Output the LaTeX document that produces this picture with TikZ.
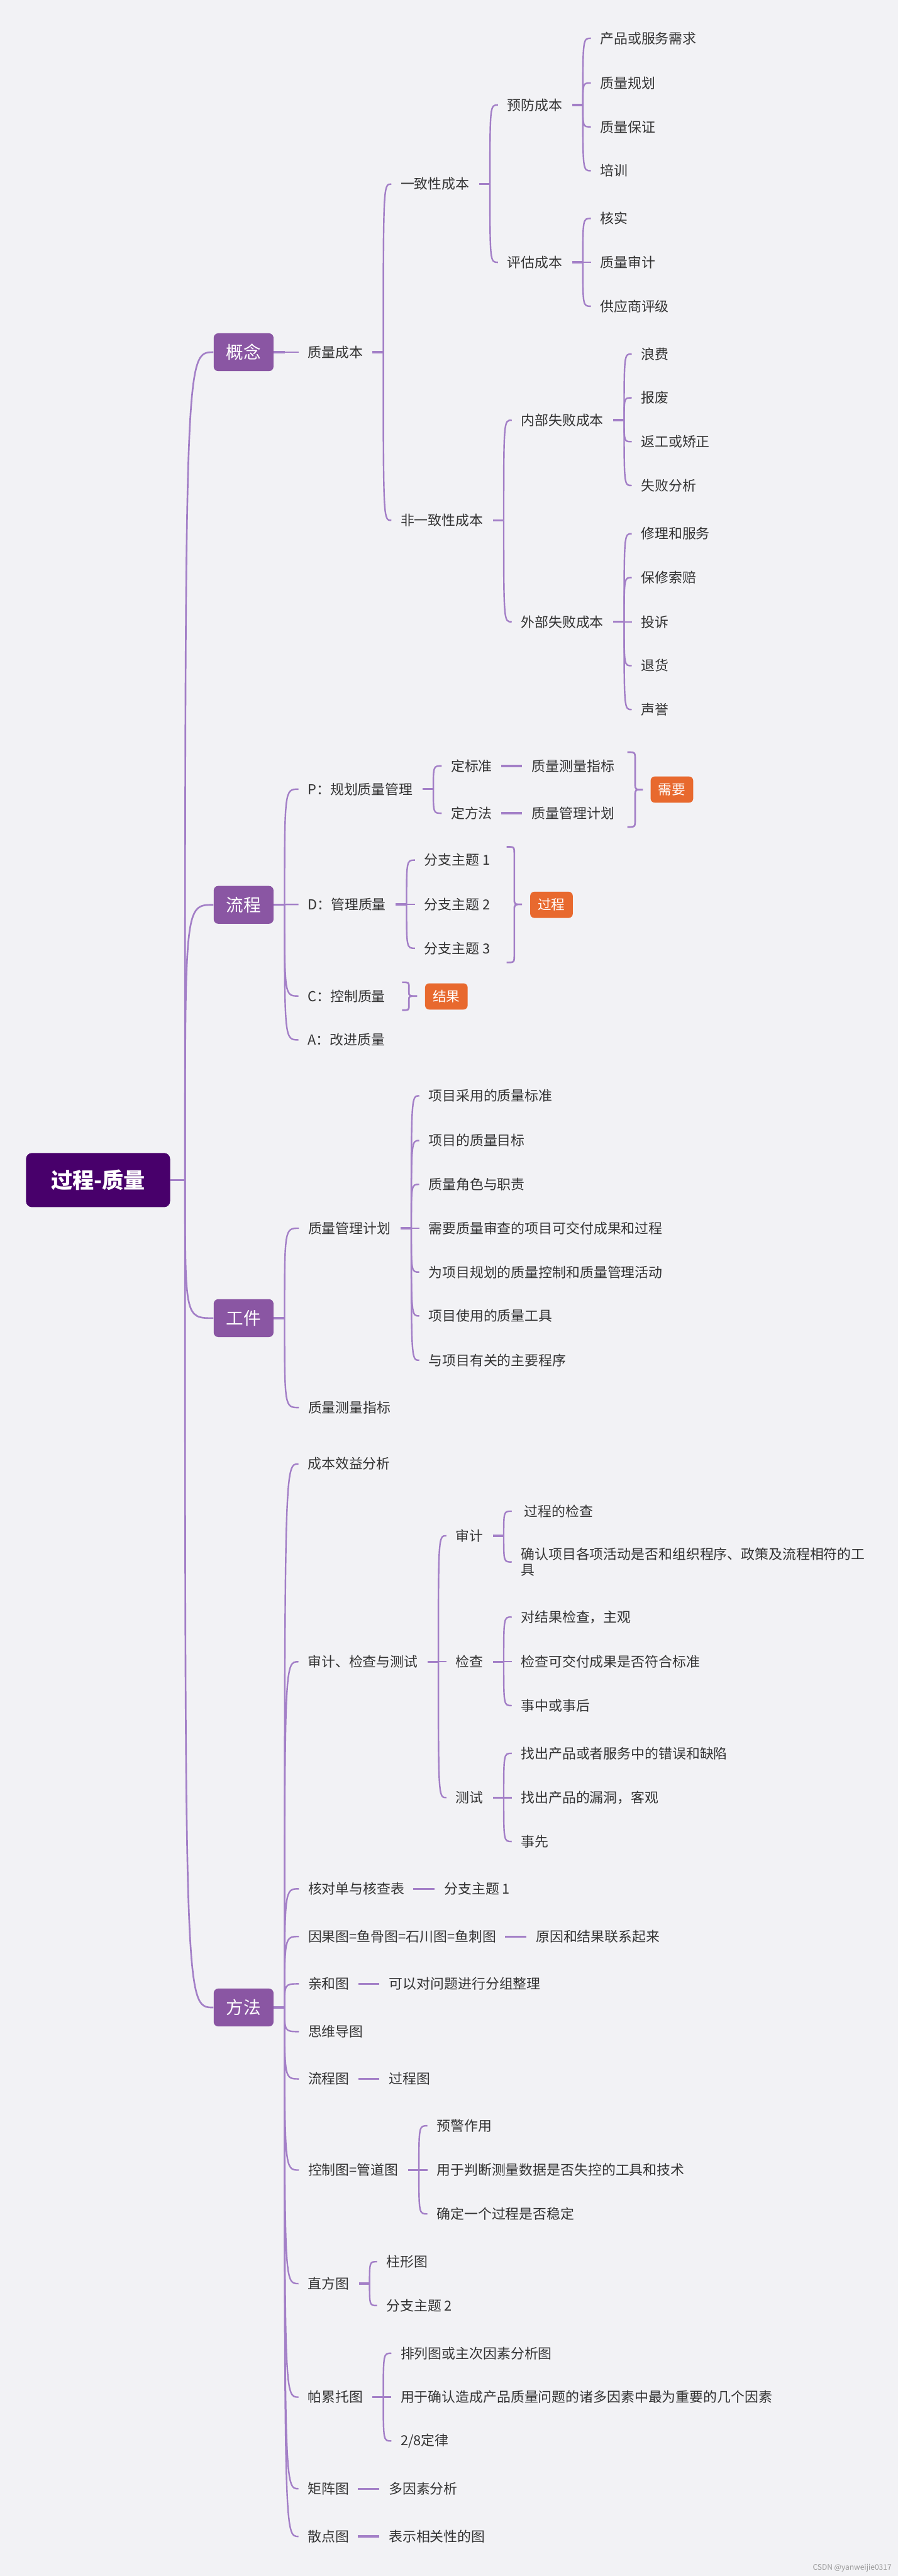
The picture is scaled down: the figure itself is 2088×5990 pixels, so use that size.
\documentclass[tikz,border=0pt]{standalone}
\usepackage{fontspec}
\setmainfont{Noto Sans CJK SC}
\usepackage{xcolor}
\usepackage{tikz}
\usetikzlibrary{calc, positioning}

\definecolor{bgcol}{RGB}{242,242,245}
\definecolor{twigcol}{RGB}{163,127,199}
\definecolor{rootcol}{RGB}{72,0,107}
\definecolor{branchcol}{RGB}{138,86,163}
\definecolor{tagcol}{RGB}{232,105,46}
\definecolor{txtcol}{RGB}{51,51,51}

\begin{document}
\begin{tikzpicture}[
    x=0.01cm, y=-0.01cm,
    % Connectors
    twig/.style={draw=twigcol, line width=1pt, to path={(\tikztostart) .. controls (\tikztostart |- \tikztotarget) .. ($(\tikztotarget)+(-21,0)$)}},
    root_twig/.style={draw=twigcol, line width=1.1pt, to path={(\tikztostart) .. controls (\tikztostart |- \tikztotarget) .. (\tikztotarget)}},
    stub/.style={draw=twigcol, line width=1.4pt, to path={($(\tikztostart.east)+(22,0)$) -- (\tikztotarget)}},
    box_stub/.style={draw=twigcol, line width=1.4pt, to path={(\tikztostart.east) -- (\tikztotarget)}},
    leaf_link/.style={draw=twigcol, line width=1.4pt, to path={($(\tikztostart.east)+(20,0)$) -- ($(\tikztotarget.west)+(-22,0)$)}},
    brace_line/.style={draw=twigcol, line width=1.1pt},
    % Nodes
    root_node/.style={rectangle, rounded corners=4pt, fill=rootcol, text=white, minimum width=3.35cm, minimum height=1.26cm, inner sep=0pt, font=\fontsize{14.2pt}{17pt}\selectfont\bfseries},
    branch_node/.style={rectangle, rounded corners=3pt, fill=branchcol, text=white, minimum width=1.39cm, minimum height=0.88cm, inner sep=0pt, font=\fontsize{11.5pt}{13pt}\selectfont},
    tag_node/.style={rectangle, rounded corners=2.8pt, fill=tagcol, text=white, minimum width=0.99cm, minimum height=0.61cm, inner sep=0pt, font=\fontsize{9pt}{11pt}\selectfont},
    topic/.style={anchor=west, inner sep=0pt, text=txtcol, font=\fontsize{9.1pt}{10.5pt}\selectfont}
]
    \useasboundingbox [fill=bgcol] (0,0) rectangle (2088,5990);

    % =========================================================================
    % 中心主题与四个分支
    % =========================================================================
    \node [root_node] (root) at (228, 2744) {过程-质量};
    \coordinate (root_s) at ($(root.east)+(34,0)$);
    \draw [box_stub] (root) to (root_s);

    \node [branch_node] (concept) at (566.5, 819) {概念};
    \node [branch_node] (process) at (566.5, 2104) {流程};
    \node [branch_node] (artifact) at (566.5, 3065) {工件};
    \node [branch_node] (method) at (566.5, 4668) {方法};

    \draw [root_twig] (root_s) to (concept.west);
    \draw [root_twig] (root_s) to (process.west);
    \draw [root_twig] (root_s) to (artifact.west);
    \draw [root_twig] (root_s) to (method.west);

    \coordinate (concept_s) at ($(concept.east)+(25,0)$);
    \coordinate (process_s) at ($(process.east)+(25,0)$);
    \coordinate (artifact_s) at ($(artifact.east)+(25,0)$);
    \coordinate (method_s) at ($(method.east)+(25,0)$);
    \draw [box_stub] (concept) to (concept_s);
    \draw [box_stub] (process) to (process_s);
    \draw [box_stub] (artifact) to (artifact_s);
    \draw [box_stub] (method) to (method_s);

    % =========================================================================
    % 概念：质量成本
    % =========================================================================
    \node [topic] (cost) at (715, 819) {质量成本};
    \draw [twig] (concept_s) to (cost.west);
    \coordinate (cost_s) at ($(cost.east)+(47,0)$);
    \draw [stub] (cost) to (cost_s);

    \node [topic] (conform) at (931, 428) {一致性成本};
    \node [topic] (nonconf) at (931, 1210) {非一致性成本};
    \draw [twig] (cost_s) to (conform.west);
    \draw [twig] (cost_s) to (nonconf.west);
    \coordinate (conform_s) at ($(conform.east)+(47,0)$);
    \coordinate (nonconf_s) at ($(nonconf.east)+(47,0)$);
    \draw [stub] (conform) to (conform_s);
    \draw [stub] (nonconf) to (nonconf_s);

    \node [topic] (prevent) at (1179, 244) {预防成本};
    \node [topic] (appraise) at (1179, 610) {评估成本};
    \draw [twig] (conform_s) to (prevent.west);
    \draw [twig] (conform_s) to (appraise.west);
    \coordinate (prevent_s) at ($(prevent.east)+(47,0)$);
    \coordinate (appraise_s) at ($(appraise.east)+(47,0)$);
    \draw [stub] (prevent) to (prevent_s);
    \draw [stub] (appraise) to (appraise_s);

    \node [topic] (pv_a) at (1395, 89) {产品或服务需求};
    \node [topic] (pv_b) at (1395, 193) {质量规划};
    \node [topic] (pv_c) at (1395, 295) {质量保证};
    \node [topic] (pv_d) at (1395, 397) {培训};
    \draw [twig] (prevent_s) to (pv_a.west);
    \draw [twig] (prevent_s) to (pv_b.west);
    \draw [twig] (prevent_s) to (pv_c.west);
    \draw [twig] (prevent_s) to (pv_d.west);

    \node [topic] (ap_a) at (1395, 508) {核实};
    \node [topic] (ap_b) at (1395, 610) {质量审计};
    \node [topic] (ap_c) at (1395, 712) {供应商评级};
    \draw [twig] (appraise_s) to (ap_a.west);
    \draw [twig] (appraise_s) to (ap_b.west);
    \draw [twig] (appraise_s) to (ap_c.west);

    \node [topic] (internal) at (1211, 977) {内部失败成本};
    \node [topic] (external) at (1211, 1446) {外部失败成本};
    \draw [twig] (nonconf_s) to (internal.west);
    \draw [twig] (nonconf_s) to (external.west);
    \coordinate (internal_s) at ($(internal.east)+(47,0)$);
    \coordinate (external_s) at ($(external.east)+(47,0)$);
    \draw [stub] (internal) to (internal_s);
    \draw [stub] (external) to (external_s);

    \node [topic] (in_a) at (1490, 823) {浪费};
    \node [topic] (in_b) at (1490, 925) {报废};
    \node [topic] (in_c) at (1490, 1027) {返工或矫正};
    \node [topic] (in_d) at (1490, 1129) {失败分析};
    \draw [twig] (internal_s) to (in_a.west);
    \draw [twig] (internal_s) to (in_b.west);
    \draw [twig] (internal_s) to (in_c.west);
    \draw [twig] (internal_s) to (in_d.west);

    \node [topic] (ex_a) at (1490, 1241) {修理和服务};
    \node [topic] (ex_b) at (1490, 1343) {保修索赔};
    \node [topic] (ex_c) at (1490, 1446) {投诉};
    \node [topic] (ex_d) at (1490, 1548) {退货};
    \node [topic] (ex_e) at (1490, 1650) {声誉};
    \draw [twig] (external_s) to (ex_a.west);
    \draw [twig] (external_s) to (ex_b.west);
    \draw [twig] (external_s) to (ex_c.west);
    \draw [twig] (external_s) to (ex_d.west);
    \draw [twig] (external_s) to (ex_e.west);

    % =========================================================================
    % 流程：PDCA
    % =========================================================================
    \node [topic] (plan) at (715, 1835) {P：规划质量管理};
    \node [topic] (do) at (715, 2103) {D：管理质量};
    \node [topic] (check) at (715, 2316) {C：控制质量};
    \node [topic] (act) at (715, 2418) {A：改进质量};
    \draw [twig] (process_s) to (plan.west);
    \draw [twig] (process_s) to (do.west);
    \draw [twig] (process_s) to (check.west);
    \draw [twig] (process_s) to (act.west);

    \coordinate (plan_s) at ($(plan.east)+(47,0)$);
    \draw [stub] (plan) to (plan_s);
    \node [topic] (std) at (1048, 1781) {定标准};
    \node [topic] (way) at (1048, 1891) {定方法};
    \draw [twig] (plan_s) to (std.west);
    \draw [twig] (plan_s) to (way.west);
    \node [topic, right=0.91cm of std] (std_m) {质量测量指标};
    \node [topic, right=0.91cm of way] (way_m) {质量管理计划};
    \draw [leaf_link] (std) to (std_m);
    \draw [leaf_link] (way) to (way_m);

    \draw [brace_line] (1459,1749) .. controls (1477,1749) .. (1477,1767) -- (1477,1822) .. controls (1477,1836) .. (1495,1836) .. controls (1477,1836) .. (1477,1850) -- (1477,1905) .. controls (1477,1923) .. (1459,1923);
    \node [tag_node] (need) at (1562.5, 1836) {需要};

    \coordinate (do_s) at ($(do.east)+(47,0)$);
    \draw [stub] (do) to (do_s);
    \node [topic] (do_a) at (986, 2000) {分支主题 1};
    \node [topic] (do_b) at (986, 2103) {分支主题 2};
    \node [topic] (do_c) at (986, 2205) {分支主题 3};
    \draw [twig] (do_s) to (do_a.west);
    \draw [twig] (do_s) to (do_b.west);
    \draw [twig] (do_s) to (do_c.west);

    \draw [brace_line] (1178,1969) .. controls (1196,1969) .. (1196,1987) -- (1196,2089) .. controls (1196,2103) .. (1214,2103) .. controls (1196,2103) .. (1196,2117) -- (1196,2220) .. controls (1196,2238) .. (1178,2238);
    \node [tag_node] (proc_tag) at (1282.5, 2104) {过程};

    \draw [brace_line] (935,2284) .. controls (951,2284) .. (951,2296) -- (951,2306) .. controls (951,2316) .. (970,2316) .. controls (951,2316) .. (951,2326) -- (951,2337) .. controls (951,2349) .. (935,2349);
    \node [tag_node] (result) at (1038, 2317) {结果};

    % =========================================================================
    % 工件
    % =========================================================================
    \node [topic] (qmp) at (716, 2856) {质量管理计划};
    \node [topic] (qmm) at (716, 3273) {质量测量指标};
    \draw [twig] (artifact_s) to (qmp.west);
    \draw [twig] (artifact_s) to (qmm.west);
    \coordinate (qmp_s) at ($(qmp.east)+(47,0)$);
    \draw [stub] (qmp) to (qmp_s);

    \node [topic] (qp_a) at (996, 2548) {项目采用的质量标准};
    \node [topic] (qp_b) at (996, 2652) {项目的质量目标};
    \node [topic] (qp_c) at (996, 2754) {质量角色与职责};
    \node [topic] (qp_d) at (996, 2856) {需要质量审查的项目可交付成果和过程};
    \node [topic] (qp_e) at (996, 2958) {为项目规划的质量控制和质量管理活动};
    \node [topic] (qp_f) at (996, 3060) {项目使用的质量工具};
    \node [topic] (qp_g) at (996, 3163) {与项目有关的主要程序};
    \draw [twig] (qmp_s) to (qp_a.west);
    \draw [twig] (qmp_s) to (qp_b.west);
    \draw [twig] (qmp_s) to (qp_c.west);
    \draw [twig] (qmp_s) to (qp_d.west);
    \draw [twig] (qmp_s) to (qp_e.west);
    \draw [twig] (qmp_s) to (qp_f.west);
    \draw [twig] (qmp_s) to (qp_g.west);

    % =========================================================================
    % 方法
    % =========================================================================
    \node [topic] (cba) at (715, 3404) {成本效益分析};
    \node [topic] (ait) at (715, 3864) {审计、检查与测试};
    \node [topic] (chklist) at (716, 4392) {核对单与核查表};
    \node [topic] (cause) at (716, 4503) {因果图=鱼骨图=石川图=鱼刺图};
    \node [topic] (affin) at (716, 4613) {亲和图};
    \node [topic] (mindmap) at (716, 4724) {思维导图};
    \node [topic] (flow) at (716, 4834) {流程图};
    \node [topic] (ctrl) at (716, 5046) {控制图=管道图};
    \node [topic] (hist) at (715, 5310) {直方图};
    \node [topic] (pareto) at (715, 5574) {帕累托图};
    \node [topic] (matrix) at (715, 5787) {矩阵图};
    \node [topic] (scatter) at (715, 5898) {散点图};
    \draw [twig] (method_s) to (cba.west);
    \draw [twig] (method_s) to (ait.west);
    \draw [twig] (method_s) to (chklist.west);
    \draw [twig] (method_s) to (cause.west);
    \draw [twig] (method_s) to (affin.west);
    \draw [twig] (method_s) to (mindmap.west);
    \draw [twig] (method_s) to (flow.west);
    \draw [twig] (method_s) to (ctrl.west);
    \draw [twig] (method_s) to (hist.west);
    \draw [twig] (method_s) to (pareto.west);
    \draw [twig] (method_s) to (matrix.west);
    \draw [twig] (method_s) to (scatter.west);

    % 审计、检查与测试
    \coordinate (ait_s) at ($(ait.east)+(47,0)$);
    \draw [stub] (ait) to (ait_s);
    \node [topic] (audit) at (1059, 3571) {审计};
    \node [topic] (inspect) at (1059, 3864) {检查};
    \node [topic] (test) at (1059, 4180) {测试};
    \draw [twig] (ait_s) to (audit.west);
    \draw [twig] (ait_s) to (inspect.west);
    \draw [twig] (ait_s) to (test.west);
    \coordinate (audit_s) at ($(audit.east)+(47,0)$);
    \coordinate (inspect_s) at ($(inspect.east)+(47,0)$);
    \coordinate (test_s) at ($(test.east)+(47,0)$);
    \draw [stub] (audit) to (audit_s);
    \draw [stub] (inspect) to (inspect_s);
    \draw [stub] (test) to (test_s);

    \node [topic] (au_a) at (1211, 3514) {\ 过程的检查};
    \node [topic, align=left] (au_b) at (1211, 3632) {确认项目各项活动是否和组织程序、政策及流程相符的工\\具};
    \draw [twig] (audit_s) to (au_a.west);
    \draw [twig] (audit_s) to (au_b.west);

    \node [topic] (ck_a) at (1211, 3760) {对结果检查，主观};
    \node [topic] (ck_b) at (1211, 3864) {检查可交付成果是否符合标准};
    \node [topic] (ck_c) at (1211, 3966) {事中或事后};
    \draw [twig] (inspect_s) to (ck_a.west);
    \draw [twig] (inspect_s) to (ck_b.west);
    \draw [twig] (inspect_s) to (ck_c.west);

    \node [topic] (ts_a) at (1211, 4077) {找出产品或者服务中的错误和缺陷};
    \node [topic] (ts_b) at (1211, 4180) {找出产品的漏洞，客观};
    \node [topic] (ts_c) at (1211, 4282) {事先};
    \draw [twig] (test_s) to (ts_a.west);
    \draw [twig] (test_s) to (ts_b.west);
    \draw [twig] (test_s) to (ts_c.west);

    % 单一子主题
    \node [topic, right=0.91cm of chklist] (chklist_m) {分支主题 1};
    \node [topic, right=0.91cm of cause] (cause_m) {原因和结果联系起来};
    \node [topic, right=0.91cm of affin] (affin_m) {可以对问题进行分组整理};
    \node [topic, right=0.91cm of flow] (flow_m) {过程图};
    \node [topic, right=0.91cm of matrix] (matrix_m) {多因素分析};
    \node [topic, right=0.91cm of scatter] (scatter_m) {表示相关性的图};
    \draw [leaf_link] (chklist) to (chklist_m);
    \draw [leaf_link] (cause) to (cause_m);
    \draw [leaf_link] (affin) to (affin_m);
    \draw [leaf_link] (flow) to (flow_m);
    \draw [leaf_link] (matrix) to (matrix_m);
    \draw [leaf_link] (scatter) to (scatter_m);

    % 控制图、直方图、帕累托图
    \coordinate (ctrl_s) at ($(ctrl.east)+(47,0)$);
    \draw [stub] (ctrl) to (ctrl_s);
    \node [topic] (ct_a) at (1015, 4943) {预警作用};
    \node [topic] (ct_b) at (1015, 5046) {用于判断测量数据是否失控的工具和技术};
    \node [topic] (ct_c) at (1015, 5148) {确定一个过程是否稳定};
    \draw [twig] (ctrl_s) to (ct_a.west);
    \draw [twig] (ctrl_s) to (ct_b.west);
    \draw [twig] (ctrl_s) to (ct_c.west);

    \coordinate (hist_s) at ($(hist.east)+(47,0)$);
    \draw [stub] (hist) to (hist_s);
    \node [topic] (hi_a) at (898, 5259) {柱形图};
    \node [topic] (hi_b) at (898, 5361) {分支主题 2};
    \draw [twig] (hist_s) to (hi_a.west);
    \draw [twig] (hist_s) to (hi_b.west);

    \coordinate (pareto_s) at ($(pareto.east)+(47,0)$);
    \draw [stub] (pareto) to (pareto_s);
    \node [topic] (pa_a) at (931, 5472) {排列图或主次因素分析图};
    \node [topic] (pa_b) at (931, 5574) {用于确认造成产品质量问题的诸多因素中最为重要的几个因素};
    \node [topic] (pa_c) at (931, 5676) {2/8定律};
    \draw [twig] (pareto_s) to (pa_a.west);
    \draw [twig] (pareto_s) to (pa_b.west);
    \draw [twig] (pareto_s) to (pa_c.west);

    \node [anchor=east, inner sep=0pt, text=black!40, font=\fontsize{5pt}{6pt}\selectfont] (mark) at (2074, 5971) {CSDN @yanweijie0317};
\end{tikzpicture}
\end{document}
